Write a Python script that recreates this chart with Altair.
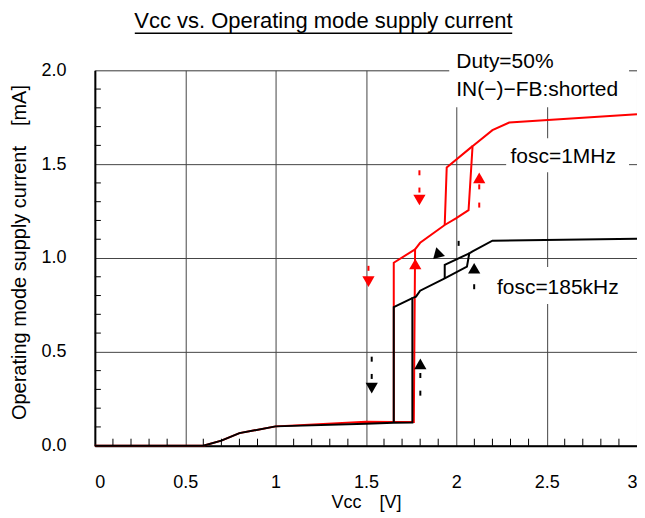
import altair as alt
import pandas as pd

FONT = "Liberation Sans"

# ---- data ----
# fosc=185kHz (black): main trace (rising Vcc)
bk_v = [0, 0.6, 0.7, 0.8, 1.0, 1.5, 1.654, 1.757, 1.757, 1.777, 1.8, 1.936, 2.059, 2.072, 2.09, 2.2, 3.0]
bk_i = [0, 0, 0.027, 0.067, 0.103, 0.117, 0.122, 0.124, 0.786, 0.794, 0.826, 0.892, 0.954, 1.025, 1.035, 1.092, 1.103]
# hysteresis return branches (falling Vcc)
bk_ret1_v = [1.757, 1.654, 1.654]
bk_ret1_i = [0.786, 0.738, 0.122]
bk_ret2_v = [2.072, 1.936, 1.936]
bk_ret2_i = [1.025, 0.963, 0.892]

# fosc=1MHz (red): main trace (rising Vcc)
rd_v = [0, 0.6, 0.7, 0.8, 1.0, 1.5, 1.654, 1.765, 1.772, 1.8, 1.936, 1.998, 2.068, 2.09, 2.2, 2.293, 3.0]
rd_i = [0, 0, 0.027, 0.067, 0.103, 0.127, 0.126, 0.126, 1.046, 1.081, 1.176, 1.211, 1.255, 1.596, 1.681, 1.722, 1.766]
rd_ret1_v = [1.772, 1.654, 1.654]
rd_ret1_i = [1.046, 0.975, 0.126]
rd_ret2_v = [2.09, 1.947, 1.936]
rd_ret2_i = [1.596, 1.482, 1.176]

# direction arrows
arr_v = [1.796, 1.514, 1.773, 2.127, 1.532, 1.801, 1.897, 2.099]
arr_i = [1.309, 0.874, 0.968, 1.427, 0.307, 0.436, 1.030, 0.945]
arr_shape = ["triangle-down", "triangle-down", "triangle-up", "triangle-up",
             "triangle-down", "triangle-up", "triangle-up", "triangle-up"]
arr_angle = [0, 0, 0, 0, 0, 0, 345, 0]
arr_color = ["#ff0000"] * 4 + ["#000000"] * 4

# dotted arrow stems
dot_v = [1.796, 1.796, 1.514, 2.127, 2.127, 1.532, 1.532, 1.801, 1.801, 2.013, 2.099]
dot_i = [1.454, 1.362, 0.945, 1.379, 1.282, 0.461, 0.369, 0.374, 0.280, 1.078, 0.847]
dot_color = ["#ff0000"] * 5 + ["#000000"] * 6

# annotations
note_text = ["Duty=50%", "IN(\u2212)\u2212FB:shorted", "fosc=1MHz", "fosc=185kHz"]
note_v = [2.0, 2.0, 2.3, 2.225]
note_i = [2.045, 1.895, 1.537, 0.842]
# white label backgrounds (interrupt grid lines)
box_v = [1.961, 2.276, 2.20]
box_v2 = [2.956, 2.956, 2.956]
box_i = [1.803, 1.457, 0.755]
box_i2 = [2.03, 1.638, 0.952]

x_major = [0, 0.5, 1, 1.5, 2, 2.5, 3]
y_major = [0, 0.5, 1.0, 1.5, 2.0]
x_minor = [0.1, 0.2, 0.3, 0.4, 0.6, 0.7, 0.8, 0.9, 1.1, 1.2, 1.3, 1.4, 1.6, 1.7, 1.8, 1.9,
           2.1, 2.2, 2.3, 2.4, 2.6, 2.7, 2.8, 2.9]
y_minor = [0.1, 0.2, 0.3, 0.4, 0.6, 0.7, 0.8, 0.9, 1.1, 1.2, 1.3, 1.4, 1.6, 1.7, 1.8, 1.9]

title_text = "Vcc vs. Operating mode supply current"

# ---- tables ----
def seg(series, name, vs, is_):
    return pd.DataFrame({"v": vs, "i": is_, "series": series, "seg": name, "ord": range(len(vs))})

red_df = pd.concat([seg("1MHz", "r0", rd_v, rd_i), seg("1MHz", "r1", rd_ret1_v, rd_ret1_i),
                    seg("1MHz", "r2", rd_ret2_v, rd_ret2_i)])
blk_df = pd.concat([seg("185kHz", "b0", bk_v, bk_i), seg("185kHz", "b1", bk_ret1_v, bk_ret1_i),
                    seg("185kHz", "b2", bk_ret2_v, bk_ret2_i)])
arr_df = pd.DataFrame({"v": arr_v, "i": arr_i, "shape": arr_shape, "ang": arr_angle, "col": arr_color})
dot_df = pd.DataFrame({"v": dot_v, "i": dot_i, "col": dot_color})
note_df = pd.DataFrame({"v": note_v, "i": note_i, "t": note_text})
box_df = pd.DataFrame({"v": box_v, "v2": box_v2, "i": box_i, "i2": box_i2})
xmin_df = pd.DataFrame({"v": x_minor})
ymin_df = pd.DataFrame({"i": y_minor})
title_df = pd.DataFrame({"t": [title_text]})

W, H = 543, 376

xscale = alt.Scale(domain=[0, 3], nice=False, zero=False)
yscale = alt.Scale(domain=[0, 2], nice=False, zero=False)

x_axis = alt.Axis(values=x_major, labelExpr="datum.value", grid=True, gridColor="#444444",
                  gridWidth=1, domainColor="#000000", domainWidth=2, ticks=False,
                  labelPadding=28, labelFontSize=18, labelFont=FONT, labelColor="#000",
                  title="Vcc\u3000[V]", titleFont=FONT, titleFontSize=18, titleFontWeight="normal",
                  titleColor="#000", titleY=57, titleBaseline="middle")
y_axis = alt.Axis(values=y_major, format=".1f", grid=True, gridColor="#444444", gridWidth=1,
                  domainColor="#000000", domainWidth=2, ticks=False, labelPadding=29,
                  labelFontSize=18, labelFont=FONT, labelColor="#000",
                  title="Operating mode supply current\u3000[mA]", titleFont=FONT, titleFontSize=20,
                  titleFontWeight="normal", titleColor="#000", titleX=-75, titleY=182,
                  titleAngle=270, titleAlign="center", titleBaseline="middle")

X = lambda f="v": alt.X(f"{f}:Q", scale=xscale, axis=x_axis)
Y = lambda f="i": alt.Y(f"{f}:Q", scale=yscale, axis=y_axis)

boxes = alt.Chart(box_df).mark_rect(color="white").encode(x=X(), x2="v2:Q", y=Y(), y2="i2:Q")

red = alt.Chart(red_df).mark_line(color="#ff0000", strokeWidth=2).encode(
    x=X(), y=Y(), detail="seg:N", order="ord:Q")
blk = alt.Chart(blk_df).mark_line(color="#000000", strokeWidth=2).encode(
    x=X(), y=Y(), detail="seg:N", order="ord:Q")

arrows = alt.Chart(arr_df).mark_point(filled=True, size=150, opacity=1).encode(
    x=X(), y=Y(), shape=alt.Shape("shape:N", scale=None),
    angle=alt.Angle("ang:Q", scale=None), color=alt.Color("col:N", scale=None))

dots = alt.Chart(dot_df).mark_tick(orient="vertical", size=5, thickness=2, opacity=1).encode(
    x=X(), y=Y(), color=alt.Color("col:N", scale=None))

notes = alt.Chart(note_df).mark_text(align="left", baseline="middle", fontSize=21, font=FONT,
                                      color="#000").encode(x=X(), y=Y(), text="t:N")

xminor = alt.Chart(xmin_df).mark_rule(color="#000", strokeWidth=1).encode(
    x=X(), y=alt.value(H), y2=alt.value(H - 7))
yminor = alt.Chart(ymin_df).mark_rule(color="#000", strokeWidth=1).encode(
    y=Y(), x=alt.value(0), x2=alt.value(6))

title = alt.Chart(title_df).mark_text(fontSize=22, font=FONT, color="#000", baseline="middle").encode(
    x=alt.value(229), y=alt.value(-49), text="t:N")
underline = alt.Chart(title_df).mark_rule(color="#000", strokeWidth=1.5).encode(
    x=alt.value(40), x2=alt.value(418), y=alt.value(-37))

chart = alt.layer(boxes, red, blk, arrows, dots, notes, xminor, yminor, title, underline).properties(
    width=W, height=H,
    autosize=alt.AutoSizeParams(type="none"),
    padding={"left": 87, "top": 62, "right": 0, "bottom": 68},
).configure_view(stroke=None).configure(background="white")

chart.save("out.html", embed_options={"renderer": "svg", "actions": False})
